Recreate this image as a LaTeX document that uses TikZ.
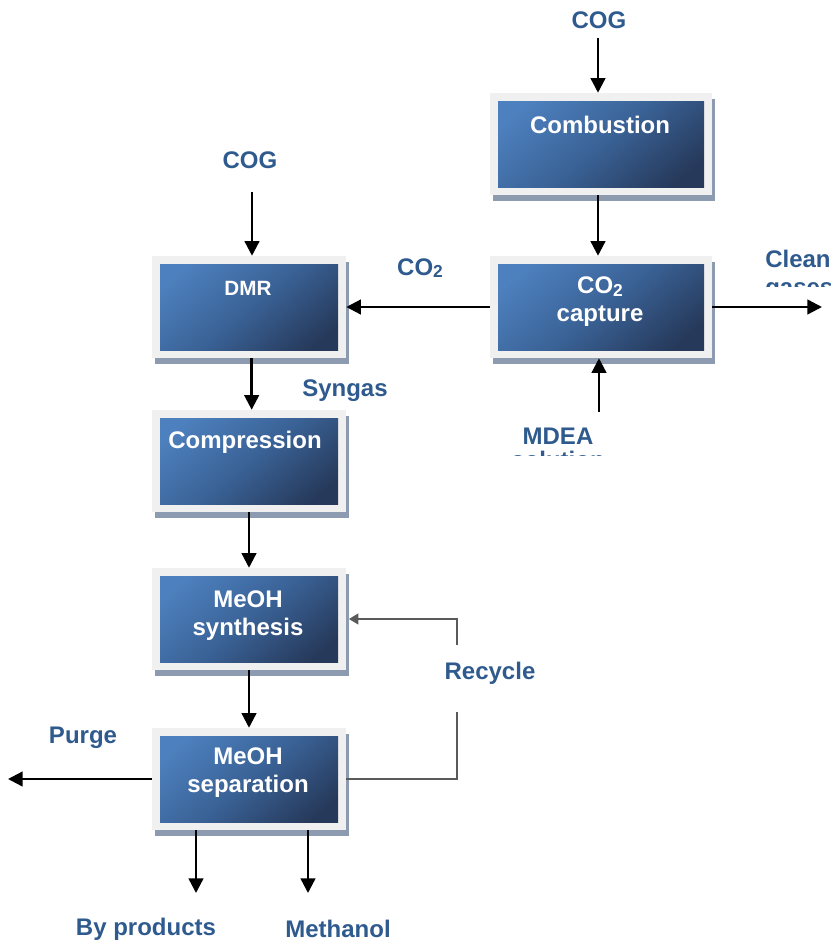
\documentclass[tikz,border=0pt]{standalone}
\usepackage{fontspec}
\setmainfont{Liberation Sans}
\usetikzlibrary{arrows.meta,shadows}
\definecolor{frameC}{HTML}{F0F0F0}
\definecolor{shadowC}{HTML}{8D9BB0}
\definecolor{boxA}{HTML}{4D80BE}
\definecolor{boxB}{HTML}{3A6296}
\definecolor{boxC}{HTML}{26395A}
\definecolor{lblC}{HTML}{2F5A8E}
\definecolor{recC}{HTML}{5A5A5A}
\newcommand\lowsub[1]{\raisebox{-0.1em}{\fontsize{13}{13}\selectfont #1}}
\begin{document}
\begin{tikzpicture}[x=0.75pt,y=-0.75pt,
 unitbox/.style={draw=none, fill=frameC, inner sep=0pt, minimum height=76.5pt,
   drop shadow={shadow xshift=2.25pt, shadow yshift=-4.5pt, fill=shadowC, opacity=1},
   path picture={\shade[top color=boxA, bottom color=boxC, middle color=boxB, shading angle=40]
     ([xshift=6pt,yshift=-6pt]path picture bounding box.north west) rectangle
     ([xshift=-6pt,yshift=6pt]path picture bounding box.south east);}},
 narrow/.style={unitbox, minimum width=145.5pt},
 wide/.style={unitbox, minimum width=166.5pt},
 boxtxt/.style={text=white, font=\fontsize{18}{21}\selectfont\bfseries, align=center, inner sep=0pt},
 lbl/.style={text=lblC, font=\fontsize{18}{21}\selectfont\bfseries, inner sep=0pt},
 arr/.style={line width=1.8pt, -{Triangle[length=11pt,width=11pt]}},
 recyc/.style={line width=1.4pt, draw=recC},
 recarr/.style={recyc, -{Triangle[length=7pt,width=8pt]}},
]
\useasboundingbox (0,0) rectangle (831,943);
% boxes
\node[wide] (comb) at (601,144) {};
\node[wide] (cap) at (601,307) {};
\node[narrow] (dmr) at (249,307) {};
\node[narrow] (comp) at (249,461) {};
\node[narrow] (syn) at (249,619) {};
\node[narrow] (sep) at (249,779) {};
% box texts
\node[boxtxt] (tcomb) at (600,125) {Combustion};
\node[boxtxt] (tcap) at (600,302) {CO\lowsub{2}\\capture};
\node[boxtxt, font=\fontsize{15.5}{18}\selectfont\bfseries] (tdmr) at (248,288) {DMR};
\node[boxtxt] (tcomp) at (245,442) {Compression};
\node[boxtxt] (tsyn) at (248,616) {MeOH\\synthesis};
\node[boxtxt] (tsep) at (248,773) {MeOH\\separation};
% labels
\node[lbl] (cog1) at (599,20) {COG};
\node[lbl] (cog2) at (250,160) {COG};
\node[lbl] (lco2) at (420,268) {CO\lowsub{2}};
\node[lbl] (lsyn) at (345,391) {Syngas};
\node[lbl] (lrec) at (490,673) {Recycle};
\node[lbl] (lpur) at (83,738) {Purge};
\node[lbl] (lbp) at (146,929) {By products};
\node[lbl] (lme) at (338,929) {Methanol};
\begin{scope}
\clip (740,240) rectangle (831,286);
\node[lbl, align=left, anchor=north west] (lclean) at (765,250) {Clean\\gases};
\end{scope}
\begin{scope}
\clip (500,420) rectangle (640,455);
\node[lbl, align=center, anchor=north] (lmdea) at (558,428) {MDEA\\[-3pt]solution};
\end{scope}
% connectors
\coordinate (c1s) at (598,38);
\draw[arr] (c1s) -- (c1s |- comb.north);
\draw[arr] ([xshift=-2.25pt]comb.south) -- ([xshift=-2.25pt]cap.north);
\draw[arr] (cap.west) -- (dmr.east);
\coordinate (cleanend) at (822,307);
\draw[arr] (cap.east) -- (cleanend);
\coordinate (mdeaS) at (599,412);
\draw[arr] (mdeaS) -- (mdeaS |- cap.south);
\coordinate (c2s) at (252,192);
\draw[arr] (c2s) -- (c2s |- dmr.north);
\draw[arr] ([xshift=2pt]dmr.south) -- ([xshift=2pt]comp.north);
\draw[arr] (comp.south) -- (syn.north);
\draw[arr] (syn.south) -- (sep.north);
\coordinate (purgeend) at (8,779);
\draw[arr] (sep.west) -- (purgeend);
\coordinate (r1) at (457,712);
\coordinate (r2) at (457,645);
\draw[recyc] (sep.east) -| (r1);
\draw[recarr] (r2) |- ([xshift=2pt]syn.east);
\coordinate (bpe) at (196,893);
\draw[arr] (sep.south -| bpe) -- (bpe);
\coordinate (mee) at (308,893);
\draw[arr] (sep.south -| mee) -- (mee);
\end{tikzpicture}
\end{document}
